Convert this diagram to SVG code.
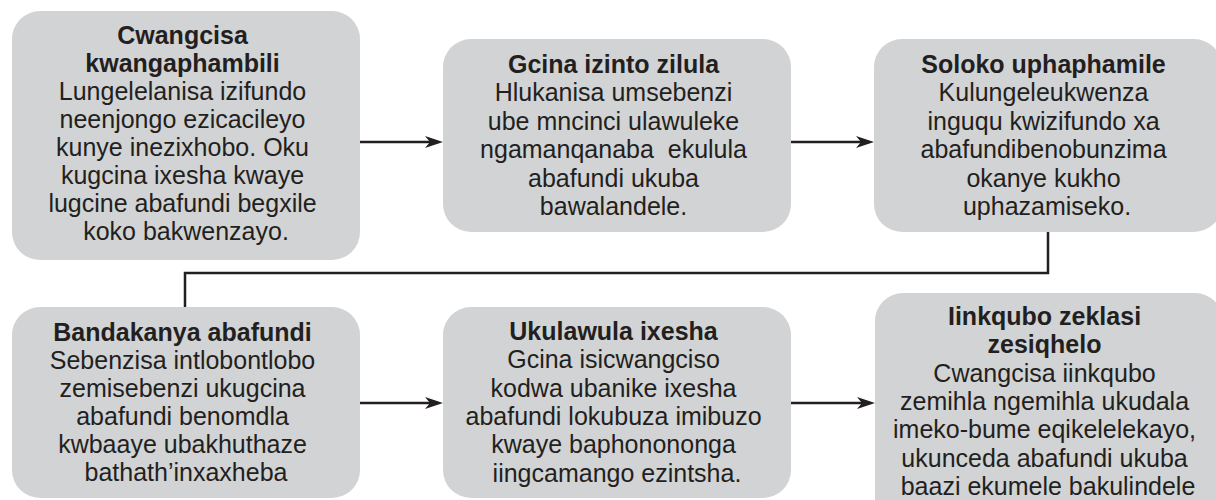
<svg xmlns="http://www.w3.org/2000/svg" width="1216" height="500" viewBox="0 0 1216 500">
<style>
.box{fill:#d1d3d4;}
.t{font-family:"Liberation Sans",Arial,sans-serif;font-size:25px;fill:#231f20;text-anchor:middle;}
.h{font-weight:bold;}
.conn{fill:none;stroke:#231f20;stroke-width:2.5;}
</style>
<defs>
<marker id="arr" markerUnits="userSpaceOnUse" markerWidth="20" markerHeight="14" refX="13" refY="6" orient="auto">
<path d="M0,0 L18,6 L0,12 L5,6 Z" fill="#231f20"/>
</marker>
</defs>
<rect width="1216" height="500" fill="#ffffff"/>
<g id="connectors">
<path class="conn" d="M360,142 H438" marker-end="url(#arr)"/>
<path class="conn" d="M791,142 H869" marker-end="url(#arr)"/>
<path class="conn" d="M1048,232 V273 H185 V307"/>
<path class="conn" d="M360,403 H438" marker-end="url(#arr)"/>
<path class="conn" d="M791,403 H870" marker-end="url(#arr)"/>
</g>
<g id="node1">
<rect class="box" x="12" y="11" width="348" height="249" rx="28"/>
<text class="t">
<tspan class="h" x="186" y="44">Cwangcisa</tspan>
<tspan class="h" x="186" y="72">kwangaphambili</tspan>
<tspan x="186" y="100">Lungelelanisa izifundo</tspan>
<tspan x="186" y="128">neenjongo ezicacileyo</tspan>
<tspan x="186" y="156">kunye inezixhobo. Oku</tspan>
<tspan x="186" y="184">kugcina ixesha kwaye</tspan>
<tspan x="186" y="212">lugcine abafundi begxile</tspan>
<tspan x="186" y="240">koko bakwenzayo.</tspan>
</text>
</g>
<g id="node2">
<rect class="box" x="443" y="39" width="348" height="193" rx="28"/>
<text class="t" style="white-space:pre">
<tspan class="h" x="617" y="73">Gcina izinto zilula</tspan>
<tspan x="617" y="101">Hlukanisa umsebenzi</tspan>
<tspan x="617" y="130">ube mncinci ulawuleke</tspan>
<tspan x="617" y="158">ngamanqanaba  ekulula</tspan>
<tspan x="617" y="187">abafundi ukuba</tspan>
<tspan x="617" y="215">bawalandele.</tspan>
</text>
</g>
<g id="node3">
<rect class="box" x="874" y="39" width="348" height="193" rx="28"/>
<text class="t">
<tspan class="h" x="1047" y="73">Soloko uphaphamile</tspan>
<tspan x="1047" y="101">Kulungeleukwenza</tspan>
<tspan x="1047" y="130">inguqu kwizifundo xa</tspan>
<tspan x="1047" y="158">abafundibenobunzima</tspan>
<tspan x="1047" y="187">okanye kukho</tspan>
<tspan x="1047" y="215">uphazamiseko.</tspan>
</text>
</g>
<g id="node4">
<rect class="box" x="12" y="307" width="348" height="191" rx="28"/>
<text class="t">
<tspan class="h" x="186" y="341">Bandakanya abafundi</tspan>
<tspan x="186" y="369">Sebenzisa intlobontlobo</tspan>
<tspan x="186" y="397">zemisebenzi ukugcina</tspan>
<tspan x="186" y="425">abafundi benomdla</tspan>
<tspan x="186" y="453">kwbaaye ubakhuthaze</tspan>
<tspan x="186" y="481">bathath’inxaxheba</tspan>
</text>
</g>
<g id="node5">
<rect class="box" x="443" y="307" width="348" height="191" rx="28"/>
<text class="t">
<tspan class="h" x="617" y="340">Ukulawula ixesha</tspan>
<tspan x="617" y="368">Gcina isicwangciso</tspan>
<tspan x="617" y="397">kodwa ubanike ixesha</tspan>
<tspan x="617" y="425">abafundi lokubuza imibuzo</tspan>
<tspan x="617" y="453">kwaye baphonononga</tspan>
<tspan x="617" y="482">iingcamango ezintsha.</tspan>
</text>
</g>
<g id="node6">
<rect class="box" x="875" y="293" width="348" height="240" rx="28"/>
<text class="t">
<tspan class="h" x="1048" y="325">Iinkqubo zeklasi</tspan>
<tspan class="h" x="1048" y="353">zesiqhelo</tspan>
<tspan x="1048" y="382">Cwangcisa iinkqubo</tspan>
<tspan x="1048" y="410">zemihla ngemihla ukudala</tspan>
<tspan x="1048" y="438">imeko-bume eqikelelekayo,</tspan>
<tspan x="1048" y="467">ukunceda abafundi ukuba</tspan>
<tspan x="1048" y="495">baazi ekumele bakulindele</tspan>
</text>
</g>
</svg>
